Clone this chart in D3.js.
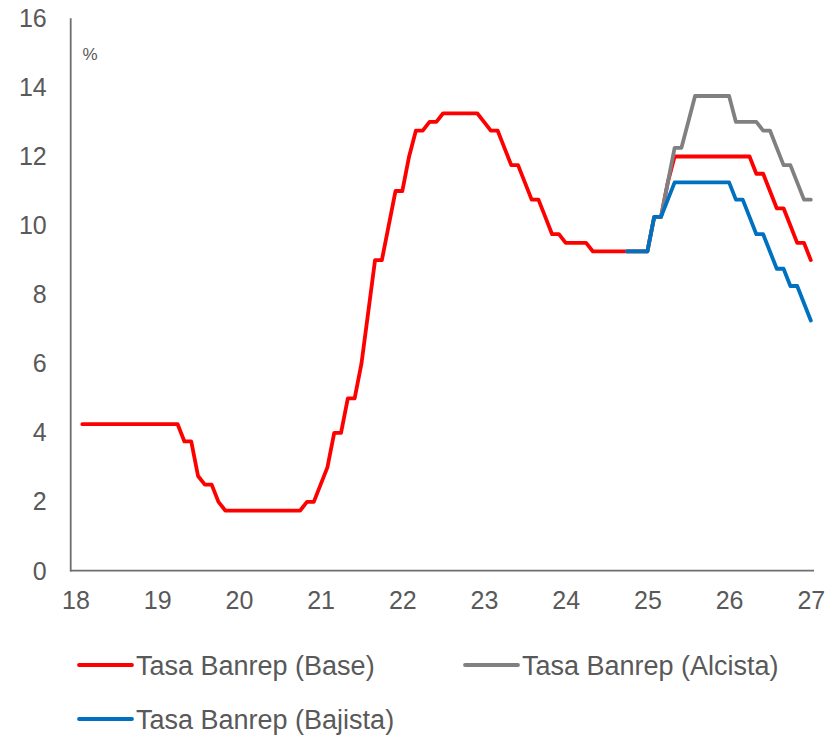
<!DOCTYPE html>
<html>
<head>
<meta charset="utf-8">
<script src="https://cdn.jsdelivr.net/npm/d3@7/dist/d3.min.js"></script>
<style>
  html, body { margin: 0; padding: 0; background: #fff; }
  svg text { font-family: "Liberation Sans", Arial, sans-serif; fill: #595959; }
</style>
</head>
<body>
<svg id="chart" width="840" height="737"></svg>
<script>
// Monthly data, Jan-2018 (index 0) .. Dec-2026 (index 107)
const baseStart = 0;
const baseValues = [
  4.25,4.25,4.25,4.25,4.25,4.25,4.25,4.25,4.25,4.25,4.25,4.25,4.25,4.25,4.25,
  3.75,3.75,2.75,2.5,2.5,2.0,
  1.75,1.75,1.75,1.75,1.75,1.75,1.75,1.75,1.75,1.75,1.75,1.75,
  2.0,2.0,2.5,3.0,4.0,4.0,5.0,5.0,6.0,7.5,9.0,9.0,10.0,11.0,11.0,12.0,12.75,12.75,13.0,13.0,
  13.25,13.25,13.25,13.25,13.25,13.25,
  13.0,12.75,12.75,12.25,11.75,11.75,11.25,10.75,10.75,10.25,9.75,9.75,
  9.5,9.5,9.5,9.5,
  9.25,9.25,9.25,9.25,9.25,9.25,9.25,9.25,9.25,
  10.25,10.25,11.25,
  12.0,12.0,12.0,12.0,12.0,12.0,12.0,12.0,12.0,12.0,12.0,12.0,
  11.5,11.5,11.0,10.5,10.5,10.0,9.5,9.5,9.0
];
const scenarioStart = 80;
const alcistaValues = [
  9.25,9.25,9.25,9.25,10.25,10.25,11.25,12.25,12.25,13.0,
  13.75,13.75,13.75,13.75,13.75,13.75,
  13.0,13.0,13.0,13.0,12.75,12.75,12.25,11.75,11.75,11.25,10.75,10.75
];
const bajistaValues = [
  9.25,9.25,9.25,9.25,10.25,10.25,10.75,
  11.25,11.25,11.25,11.25,11.25,11.25,11.25,11.25,11.25,
  10.75,10.75,10.25,9.75,9.75,9.25,8.75,8.75,8.25,8.25,7.75,7.25
];
const xTickLabels = [18,19,20,21,22,23,24,25,26,27];
const yTicks = [0,2,4,6,8,10,12,14,16];
const seriesNames = ["Tasa Banrep (Base)", "Tasa Banrep (Alcista)", "Tasa Banrep (Bajista)"];
const seriesColors = ["#FF0000", "#808080", "#0070C0"];

const svg = d3.select("#chart");
const x = d3.scaleLinear().domain([18, 27]).range([75.5, 810.8]);
const y = d3.scaleLinear().domain([0, 16]).range([571, 18.3]);
const monthToYear = k => 18 + (k + 1) / 12;

// axes
const axisColor = "#6e6e6e";
const xAxis = d3.axisBottom(x).tickValues(xTickLabels).tickSize(0).tickPadding(20).tickFormat(d3.format("d"));
const gx = svg.append("g").attr("transform", "translate(0,571)").call(xAxis);
gx.select(".domain").remove();
gx.selectAll("text").attr("font-size", 25).style("fill", "#595959");

const yAxis = d3.axisLeft(y).tickValues(yTicks).tickSize(0).tickPadding(24).tickFormat(d3.format("d"));
const gy = svg.append("g").attr("transform", "translate(70.7,0)").call(yAxis);
gy.select(".domain").remove();
gy.selectAll("text").attr("font-size", 25).style("fill", "#595959");

svg.append("line").attr("x1", 70.7).attr("x2", 70.7).attr("y1", 18.3).attr("y2", 571.5)
  .attr("stroke", axisColor).attr("stroke-width", 1.8);
svg.append("line").attr("x1", 70).attr("x2", 814).attr("y1", 570.7).attr("y2", 570.7)
  .attr("stroke", axisColor).attr("stroke-width", 1.8);

svg.append("text").attr("x", 82.5).attr("y", 60).attr("font-size", 17).text("%");

// lines
const line = d3.line().x(d => x(monthToYear(d.k))).y(d => y(d.v));
const mk = (vals, start) => vals.map((v, i) => ({ k: start + i, v }));
const series = [
  { data: mk(baseValues, baseStart), color: seriesColors[0] },
  { data: mk(alcistaValues, scenarioStart), color: seriesColors[1] },
  { data: mk(bajistaValues, scenarioStart), color: seriesColors[2] }
];
series.forEach(s => {
  svg.append("path").datum(s.data).attr("d", line)
    .attr("fill", "none").attr("stroke", s.color).attr("stroke-width", 3.8)
    .attr("stroke-linejoin", "round").attr("stroke-linecap", "round");
});

// legend
const legendItems = [
  { name: seriesNames[0], color: seriesColors[0], lx: 78, ly: 665 },
  { name: seriesNames[1], color: seriesColors[1], lx: 464, ly: 665 },
  { name: seriesNames[2], color: seriesColors[2], lx: 78, ly: 719 }
];
legendItems.forEach(it => {
  svg.append("line").attr("x1", it.lx + 1).attr("x2", it.lx + 54).attr("y1", it.ly).attr("y2", it.ly)
    .attr("stroke", it.color).attr("stroke-width", 3.8).attr("stroke-linecap", "round");
  svg.append("text").attr("x", it.lx + 58).attr("y", it.ly + 10).attr("font-size", 27).text(it.name);
});
</script>
</body>
</html>
